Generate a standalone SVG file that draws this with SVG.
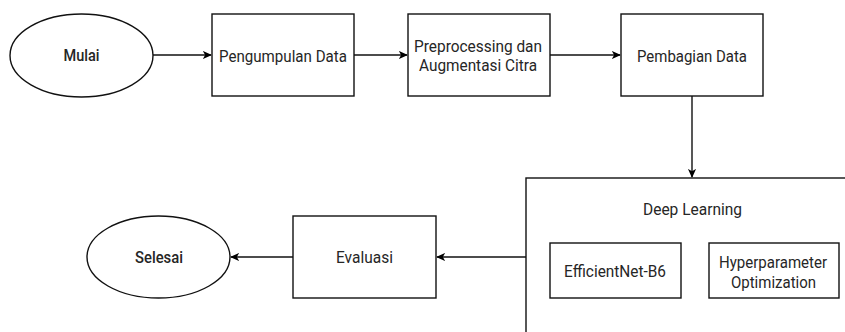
<svg xmlns="http://www.w3.org/2000/svg" width="845" height="332" viewBox="0 0 845 332">
<style>
.s{fill:#fff;stroke:#111;stroke-width:1.4}
.t{font-family:Roboto,"Liberation Sans",sans-serif;font-size:17px;fill:#262626;text-anchor:middle}
.b{font-weight:500;fill:#262626}
.c{fill:none;stroke:#111;stroke-width:1.4}
</style>
<defs>
<marker id="a" viewBox="0 0 10 10" refX="9" refY="5" markerWidth="9" markerHeight="9" markerUnits="userSpaceOnUse" orient="auto">
<path d="M0,0.5 L10,5 L0,9.5 L2.5,5 Z" fill="#000"/>
</marker>
</defs>
<rect width="845" height="332" fill="#fff"/>
<g id="connectors">
<line class="c" x1="153" y1="55" x2="211" y2="55" marker-end="url(#a)"/>
<line class="c" x1="354" y1="55" x2="407" y2="55" marker-end="url(#a)"/>
<line class="c" x1="550" y1="55" x2="620" y2="55" marker-end="url(#a)"/>
<line class="c" x1="692" y1="96" x2="692" y2="177" marker-end="url(#a)"/>
<line class="c" x1="526" y1="257" x2="437" y2="257" marker-end="url(#a)"/>
<line class="c" x1="293" y1="257" x2="231" y2="257" marker-end="url(#a)"/>
</g>
<g id="mulai"><ellipse class="s" cx="81.5" cy="55.5" rx="71.5" ry="41.5"/><text class="t b" x="81.5" y="61" textLength="36" lengthAdjust="spacingAndGlyphs">Mulai</text></g>
<g id="pengumpulan"><rect class="s" x="212" y="14" width="142" height="82"/><text class="t" x="283" y="62" textLength="128" lengthAdjust="spacingAndGlyphs">Pengumpulan Data</text></g>
<g id="preprocessing"><rect class="s" x="408" y="14" width="142" height="82"/><text class="t" x="478" y="52" textLength="128" lengthAdjust="spacingAndGlyphs">Preprocessing dan</text><text class="t" x="478" y="71" textLength="118" lengthAdjust="spacingAndGlyphs">Augmentasi Citra</text></g>
<g id="pembagian"><rect class="s" x="621" y="14" width="142" height="82"/><text class="t" x="692" y="62" textLength="110" lengthAdjust="spacingAndGlyphs">Pembagian Data</text></g>
<g id="deeplearning"><rect class="s" x="526" y="178" width="330" height="170"/><text class="t" x="692.5" y="215" textLength="99" lengthAdjust="spacingAndGlyphs">Deep Learning</text></g>
<g id="efficientnet"><rect class="s" x="550" y="243" width="131" height="55"/><text class="t" x="615" y="277" textLength="102" lengthAdjust="spacingAndGlyphs">EfficientNet-B6</text></g>
<g id="hyperparameter"><rect class="s" x="709" y="243" width="130" height="55"/><text class="t" x="773" y="268" textLength="108" lengthAdjust="spacingAndGlyphs">Hyperparameter</text><text class="t" x="773.5" y="288" textLength="85" lengthAdjust="spacingAndGlyphs">Optimization</text></g>
<g id="evaluasi"><rect class="s" x="293" y="216" width="143" height="82"/><text class="t" x="364.5" y="263" textLength="57" lengthAdjust="spacingAndGlyphs">Evaluasi</text></g>
<g id="selesai"><ellipse class="s" cx="158.5" cy="257" rx="71.5" ry="41"/><text class="t b" x="159" y="263" textLength="48" lengthAdjust="spacingAndGlyphs">Selesai</text></g>
</svg>
